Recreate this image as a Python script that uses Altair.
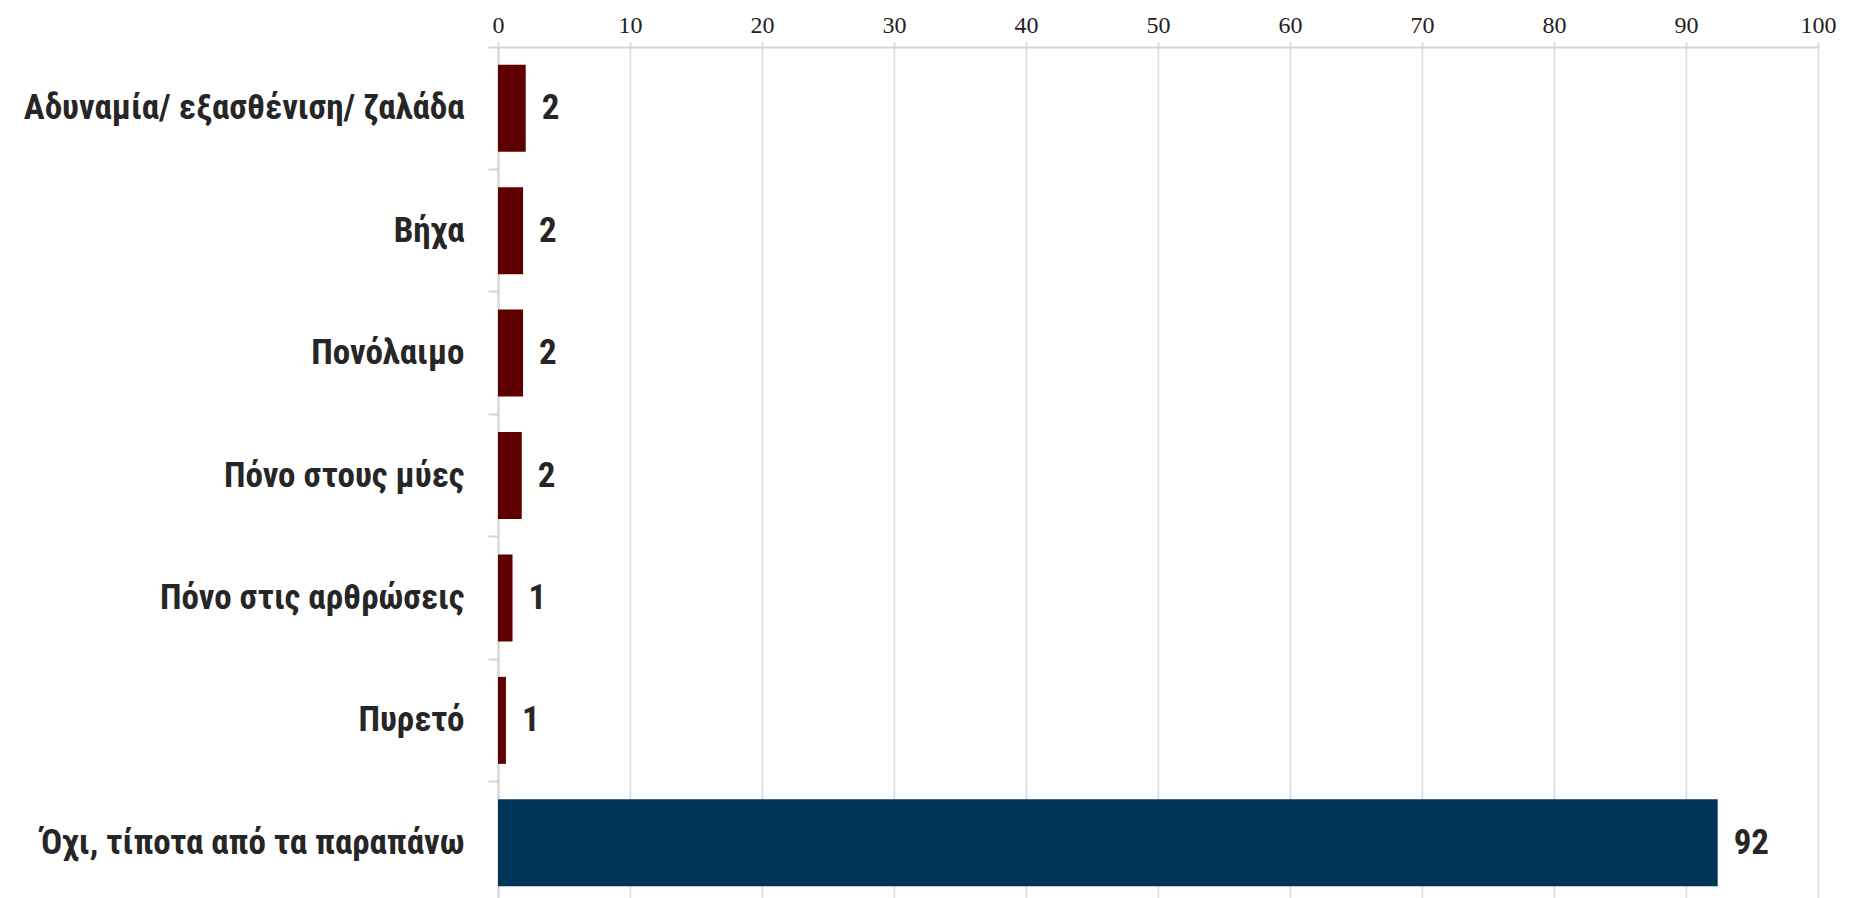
import altair as alt
import pandas as pd

categories = [
    "Αδυναμία/ εξασθένιση/ ζαλάδα",
    "Βήχα",
    "Πονόλαιμο",
    "Πόνο στους μύες",
    "Πόνο στις αρθρώσεις",
    "Πυρετό",
    "Όχι, τίποτα από τα παραπάνω",
]
values = [2.1, 1.9, 1.9, 1.8, 1.1, 0.6, 92.4]
groups = ["symptom", "symptom", "symptom", "symptom", "symptom", "symptom", "none"]
group_domain = ["symptom", "none"]
group_colors = ["#5e0000", "#00355a"]
x_ticks = [0, 10, 20, 30, 40, 50, 60, 70, 80, 90, 100]

df = pd.DataFrame({"cat": categories, "val": values, "grp": groups})
df["lbl"] = df["val"].round(0).astype(int).astype(str)

LABEL_FONT = "Roboto Condensed, Liberation Sans Narrow, Roboto, sans-serif"

y_enc = alt.Y(
    "cat:N",
    sort=categories,
    scale=alt.Scale(paddingInner=0, paddingOuter=0),
    axis=alt.Axis(
        title=None,
        bandPosition=0,
        grid=False,
        domain=True,
        domainColor="#d4d4d4",
        domainWidth=2,
        ticks=True,
        tickColor="#d4d4d4",
        tickSize=10,
        tickWidth=2,
        labelFont=LABEL_FONT,
        labelFontSize=35,
        labelFontWeight="bold",
        labelColor="#262626",
        labelPadding=24,
        labelLimit=600,
        minExtent=485,
        maxExtent=485,
    ),
)

x_enc = alt.X(
    "val:Q",
    scale=alt.Scale(domain=[0, 100], nice=False),
    axis=alt.Axis(
        title=None,
        orient="top",
        values=x_ticks,
        grid=True,
        gridColor="#dcdcdc",
        gridWidth=1.5,
        domain=True,
        domainColor="#d4d4d4",
        domainWidth=2,
        ticks=True,
        tickColor="#d4d4d4",
        tickSize=5,
        tickWidth=1.5,
        labelFont="Liberation Serif, DejaVu Serif, serif",
        labelFontSize=24,
        labelColor="#222222",
        labelPadding=5,
        labelFlush=False,
        minExtent=28,
        maxExtent=28,
    ),
)

bars = alt.Chart(df).mark_bar(size=87).encode(
    x=x_enc,
    y=y_enc,
    color=alt.Color(
        "grp:N",
        scale=alt.Scale(domain=group_domain, range=group_colors),
        legend=None,
    ),
)

text = alt.Chart(df).mark_text(
    align="left",
    baseline="middle",
    dx=16,
    font=LABEL_FONT,
    fontSize=35,
    fontWeight="bold",
    color="#262626",
).encode(
    x=alt.X("val:Q"),
    y=alt.Y("cat:N", sort=categories),
    text="lbl:N",
)

chart = (
    alt.layer(bars, text)
    .properties(width=1320, height=857)
    .configure_view(stroke=None)
    .configure(background="white")
)

chart.save("out.html", embed_options={"renderer": "svg", "actions": False})
